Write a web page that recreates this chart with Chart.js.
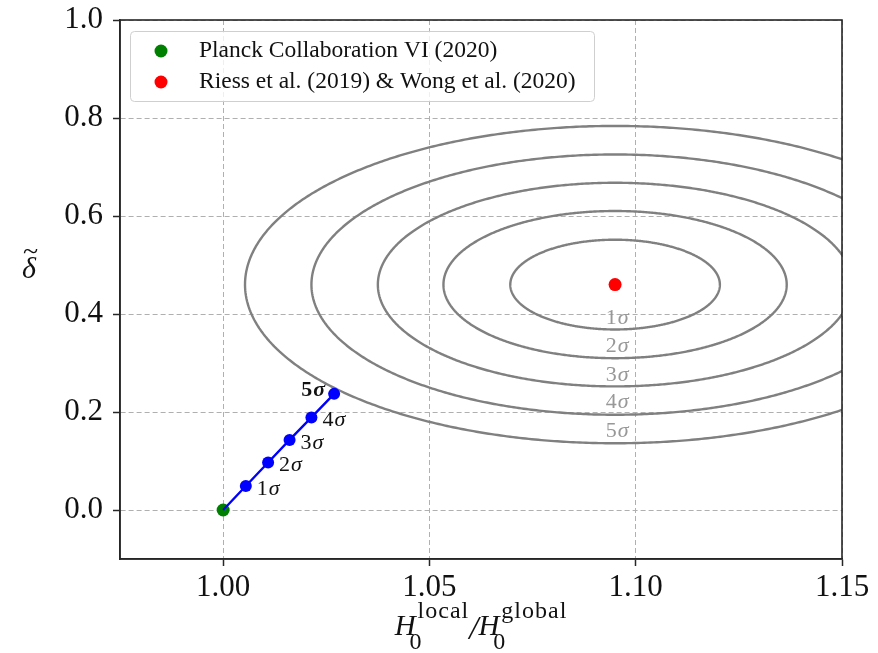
<!DOCTYPE html>
<html>
<head>
<meta charset="utf-8">
<script src="https://cdn.jsdelivr.net/npm/chart.js@4.4.1/dist/chart.umd.min.js"></script>
<style>
  html, body { margin: 0; padding: 0; background: #fff; }
  #wrap { width: 878px; height: 653px; }
</style>
</head>
<body>
<div id="wrap"><canvas id="chart" width="878" height="653"></canvas></div>
<script>
// axis ticks
const xTicks = [1.00, 1.05, 1.10, 1.15];
const yTicks = [0.0, 0.2, 0.4, 0.6, 0.8, 1.0];

// the two measurements
const planckPoint = { x: 1.000, y: 0.000 };
const shoesPoint = { x: 1.095, y: 0.460 };
const legendLabels = ['Planck Collaboration VI (2020)', 'Riess et al. (2019) & Wong et al. (2020)'];

// blue path from Planck, one point per sigma
const pathX = [1.000, 1.0055, 1.0109, 1.0161, 1.0214, 1.0269];
const pathY = [0.000, 0.049, 0.097, 0.143, 0.189, 0.237];
const pathLabels = ['', '1', '2', '3', '4', '5'];

const contourLabels = ['1', '2', '3', '4', '5'];
const contourRx = [0.0254, 0.0416, 0.0575, 0.0736, 0.0897];
const contourRy = [0.0916, 0.1502, 0.2078, 0.2656, 0.3238];
const contourLabelX = 1.0955;
const contourLabelY = [0.391, 0.334, 0.276, 0.220, 0.160];

const SERIF = '"Liberation Serif", "DejaVu Serif", serif';

function ellipsePoints(cx, cy, rx, ry) {
  const pts = [];
  for (let k = 0; k <= 360; k += 1) {
    const a = k * Math.PI / 180;
    pts.push({ x: cx + rx * Math.cos(a), y: cy + ry * Math.sin(a) });
  }
  return pts;
}

// "1σ" style label: upright digit, italic sigma
function drawSigma(ctx, digit, x, y, align, opts) {
  const size = opts.size || 22;
  const w = opts.bold ? 'bold ' : '';
  const fDigit = w + size + 'px ' + SERIF;
  const fSig = w + 'italic ' + size + 'px ' + SERIF;
  ctx.font = fDigit;
  const wd = ctx.measureText(digit).width;
  ctx.font = fSig;
  const ws = ctx.measureText('σ').width;
  const total = wd + ws + 1;
  let x0 = x;
  if (align === 'center') x0 = x - total / 2;
  if (align === 'right') x0 = x - total;
  ctx.fillStyle = opts.color;
  ctx.textBaseline = 'middle';
  ctx.textAlign = 'left';
  ctx.font = fDigit;
  ctx.fillText(digit, x0, y);
  ctx.font = fSig;
  ctx.fillText('σ', x0 + wd + 1, y);
}

// put a glyph's ink box centred on (cx, cy)
function drawInkCentered(ctx, text, font, cx, cy) {
  ctx.font = font;
  ctx.textAlign = 'left';
  ctx.textBaseline = 'alphabetic';
  const m = ctx.measureText(text);
  const l = -m.actualBoundingBoxLeft, r = m.actualBoundingBoxRight;
  const t = -m.actualBoundingBoxAscent, b = m.actualBoundingBoxDescent;
  ctx.fillText(text, cx - (l + r) / 2, cy - (t + b) / 2);
}

const overlay = {
  id: 'overlay',
  afterDatasetsDraw(chart) {
    const ctx = chart.ctx;
    const xs = chart.scales.x, ys = chart.scales.y;
    const area = chart.chartArea;
    ctx.save();
    ctx.beginPath();
    ctx.rect(area.left, area.top, area.right - area.left, area.bottom - area.top);
    ctx.clip();
    contourLabels.forEach((d, i) => {
      drawSigma(ctx, d, xs.getPixelForValue(contourLabelX), ys.getPixelForValue(contourLabelY[i]),
        'center', { color: '#989898' });
    });
    pathLabels.forEach((d, i) => {
      if (!d) return;
      const px = xs.getPixelForValue(pathX[i]);
      const py = ys.getPixelForValue(pathY[i]);
      if (i === pathLabels.length - 1) {
        drawSigma(ctx, d, px - 9, py - 4, 'right', { color: '#111', bold: true });
      } else {
        drawSigma(ctx, d, px + 11, py + 3, 'left', { color: '#111' });
      }
    });
    ctx.restore();
  },
  afterDraw(chart) {
    const ctx = chart.ctx;
    const a = chart.chartArea;
    ctx.save();
    // frame
    ctx.strokeStyle = '#262626';
    ctx.lineWidth = 1.6;
    ctx.strokeRect(a.left, a.top, a.right - a.left, a.bottom - a.top);

    // legend
    const lx = 130.5, ly = 31.5, lw = 464, lh = 70;
    ctx.beginPath();
    ctx.roundRect(lx, ly, lw, lh, 4);
    ctx.fillStyle = 'rgba(255,255,255,0.8)';
    ctx.fill();
    ctx.strokeStyle = '#cfcfcf';
    ctx.lineWidth = 1;
    ctx.stroke();
    const dotColors = ['#008000', '#ff0000'];
    legendLabels.forEach((t, i) => {
      const cy = 51 + i * 31;
      ctx.beginPath();
      ctx.arc(161, cy, 6.5, 0, Math.PI * 2);
      ctx.fillStyle = dotColors[i];
      ctx.fill();
      ctx.fillStyle = '#111';
      ctx.font = '23.5px ' + SERIF;
      ctx.textAlign = 'left';
      ctx.textBaseline = 'alphabetic';
      ctx.fillText(t, 199, cy + 5.5);
    });

    // x title: H_0^local / H_0^global
    const base = 635;
    const big = 'italic 29px ' + SERIF;
    const small = '24px ' + SERIF;
    const parts = [
      { t: 'H', f: big, sub: '0', sup: 'local' },
      { t: '/', f: 'italic 33px ' + SERIF },
      { t: 'H', f: big, sub: '0', sup: 'global' }
    ];
    let total = 0;
    parts.forEach(p => {
      ctx.letterSpacing = '0px';
      ctx.font = p.f;
      p.w = ctx.measureText(p.t).width;
      p.extra = 0;
      if (p.sup) {
        ctx.letterSpacing = '1px';
        ctx.font = small;
        p.wsup = ctx.measureText(p.sup).width;
        p.extra = p.wsup + 2;
      }
      total += p.w + p.extra;
    });
    let x = (a.left + a.right) / 2 - total / 2;
    ctx.fillStyle = '#111';
    ctx.textAlign = 'left';
    ctx.textBaseline = 'alphabetic';
    parts.forEach(p => {
      ctx.letterSpacing = '0px';
      ctx.font = p.f;
      ctx.fillText(p.t, x, base + (p.t === '/' ? 4 : 0));
      x += p.w;
      if (p.sup) {
        ctx.font = small;
        ctx.fillText(p.sub, x - 6, base + 14);
        ctx.letterSpacing = '1px';
        ctx.fillText(p.sup, x + 2, base - 17);
        x += p.extra;
      }
    });
    ctx.letterSpacing = '0px';

    // y title: delta tilde
    drawInkCentered(ctx, 'δ', 'italic 30px ' + SERIF, 29.5, 267.5);
    drawInkCentered(ctx, '~', '28px ' + SERIF, 30.5, 251);
    ctx.restore();
  }
};

const datasets = [];
contourRx.forEach((rx, i) => {
  datasets.push({
    label: contourLabels[i] + 'σ',
    data: ellipsePoints(shoesPoint.x, shoesPoint.y, rx, contourRy[i]),
    showLine: true,
    borderColor: '#808080',
    borderWidth: 2.4,
    tension: 0.001,
    pointRadius: 0,
    fill: false,
    clip: 0,
    order: 5
  });
});
datasets.push({
  label: legendLabels[0],
  data: [planckPoint],
  backgroundColor: '#008000',
  borderWidth: 0,
  pointRadius: 6.5,
  order: 4
});
datasets.push({
  label: 'path',
  data: pathX.map((v, i) => ({ x: v, y: pathY[i] })),
  showLine: true,
  borderColor: '#0000ff',
  borderWidth: 2.4,
  pointBackgroundColor: '#0000ff',
  pointBorderWidth: 0,
  pointRadius: [0, 6, 6, 6, 6, 6],
  order: 3
});
datasets.push({
  label: legendLabels[1],
  data: [shoesPoint],
  backgroundColor: '#ff0000',
  borderWidth: 0,
  pointRadius: 6.5,
  order: 2
});

const tickFont = { family: SERIF, size: 31 };

new Chart(document.getElementById('chart'), {
  type: 'scatter',
  data: { datasets },
  plugins: [overlay],
  options: {
    responsive: false,
    animation: false,
    layout: { padding: { left: 0, right: 36, top: 20, bottom: 0 } },
    plugins: { legend: { display: false }, tooltip: { enabled: false } },
    scales: {
      x: {
        type: 'linear', min: 0.975, max: 1.15,
        afterBuildTicks: s => { s.ticks = xTicks.map(v => ({ value: v })); },
        afterFit: s => { s.height = 94; s.paddingLeft = 0; s.paddingRight = 0; },
        ticks: { callback: v => v.toFixed(2), font: tickFont, color: '#111', padding: 3, maxRotation: 0, autoSkip: false },
        grid: { color: '#b0b0b0', lineWidth: 1, tickColor: '#262626', tickLength: 7, tickWidth: 1.5 },
        border: { display: true, color: '#262626', width: 1.6, dash: [5, 3] }
      },
      y: {
        type: 'linear', min: -0.1, max: 1.0,
        afterBuildTicks: s => { s.ticks = yTicks.map(v => ({ value: v })); },
        afterFit: s => { s.width = 120; s.paddingTop = 0; s.paddingBottom = 0; },
        ticks: { callback: v => v.toFixed(1), font: tickFont, color: '#111', padding: 10, autoSkip: false },
        grid: { color: '#b0b0b0', lineWidth: 1, tickColor: '#262626', tickLength: 7, tickWidth: 1.5 },
        border: { display: true, color: '#262626', width: 1.6, dash: [5, 3] }
      }
    }
  }
});
</script>
</body>
</html>
